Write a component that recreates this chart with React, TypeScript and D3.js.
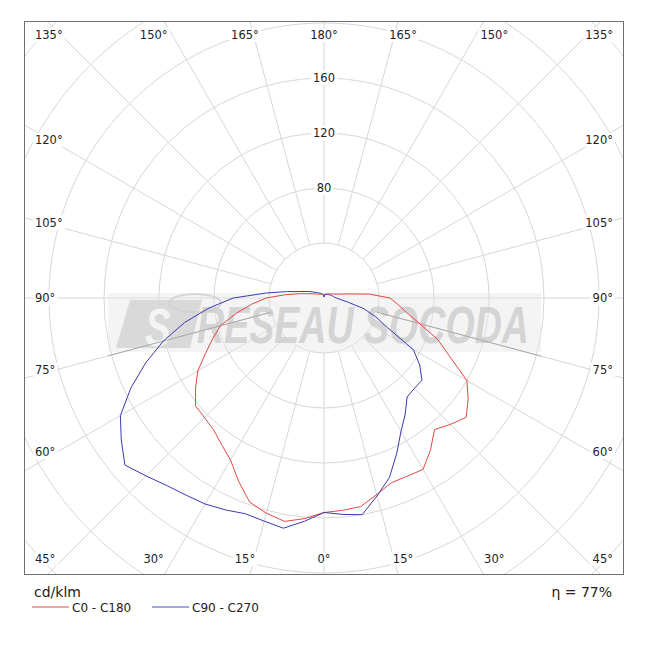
import React from "react";
import * as d3 from "d3";

// gamma angles (degrees from nadir)
const anglesDeg = [0, 5, 10, 15, 20, 25, 30, 35, 40, 45, 50, 55, 60, 65, 70, 75, 80, 85, 90, 95, 100, 105, 110, 115, 120, 125, 130, 135, 140, 145, 150, 155, 160, 165, 170, 175, 180];
// cd/klm, one value per angle
const c0 = [156, 155, 154, 148, 143, 143, 144, 135, 125, 130, 135, 128, 120, 101, 88, 72, 61, 54, 48, 33, 17, 11, 8.5, 7, 6, 5.2, 4.6, 4.2, 3.9, 3.6, 3.4, 3.2, 3.1, 3.0, 2.9, 2.0, 0.8];
const c180 = [156, 161, 165, 162, 158, 147, 136, 130, 125, 123, 122, 114, 106, 95, 86, 78, 65, 53, 42, 28, 18, 12, 9, 7, 5.5, 4.8, 4.2, 3.8, 3.5, 3.3, 3.1, 2.9, 2.8, 2.6, 2.4, 1.7, 0.8];
const c90 = [156, 158, 160, 149, 139, 125, 112, 103, 94, 93, 93, 85, 75, 51, 40, 30, 18, 12, 9, 7.5, 6.8, 6.2, 5.6, 5.1, 4.6, 4.2, 3.9, 3.6, 3.4, 3.2, 3.0, 2.8, 2.6, 2.5, 2.3, 1.7, 0.8];
const c270 = [156, 163, 170, 168, 167, 170, 173, 175, 178, 183, 189, 180, 171, 155, 138, 121, 103, 84, 66, 42, 27, 18, 14, 11, 8.5, 7, 6, 5.2, 4.6, 4.1, 3.7, 3.3, 3.0, 2.6, 2.2, 1.6, 0.8];

const ringValues = [40, 80, 120, 160, 200, 240, 280];
const ringLabels = [80, 120, 160];
const spokeAngles = [0, 15, 30, 45, 60, 75, 90, 105, 120, 135, 150, 165, 180, 195, 210, 225, 240, 255, 270, 285, 300, 315, 330, 345];
const angleLabels = [0, 15, 30, 45, 60, 75, 90, 105, 120, 135, 150, 165, 180];
const seriesNames = ["C0 - C180", "C90 - C270"];
const seriesColors = ["#e24646", "#3a3aae"];
const legendColors = ["#f2a3a3", "#a6a6e6"];
const unitLabel = "cd/klm";
const efficiencyLabel = "η = 77%";
const watermark = "RESEAU SOCODA";

const W = 648;
const H = 648;
const F = { x0: 24.5, y0: 21.5, x1: 623.5, y1: 574.5 };
const cx = 324;
const cy = 298;
const rad = d3.scaleLinear().domain([0, 40]).range([0, 55]);
const FONT = "'DejaVu Sans', Verdana, sans-serif";

function planePoints(right: number[], left: number[]): [number, number][] {
  const pts: [number, number][] = [];
  for (let i = anglesDeg.length - 1; i >= 0; i--) pts.push([Math.PI - (anglesDeg[i] * Math.PI) / 180, rad(right[i])]);
  for (let i = 0; i < anglesDeg.length; i++) pts.push([Math.PI + (anglesDeg[i] * Math.PI) / 180, rad(left[i])]);
  return pts;
}

const radial = d3
  .lineRadial<[number, number]>()
  .angle((d) => d[0])
  .radius((d) => d[1]);

function labelWidth(s: string, fs: number) {
  let w = 0;
  for (const ch of s) {
    if (ch === "°") w += 0.5 * fs;
    else w += 0.636 * fs;
  }
  return w;
}

function angleLabelPos(theta: number, side: number, w: number) {
  const t = (theta * Math.PI) / 180;
  const sx = side * Math.sin(t);
  const sy = Math.cos(t);
  const A = 267;
  const B = 295;
  const ta = Math.abs(sx) > 1e-9 ? A / Math.abs(sx) : Infinity;
  const tb = Math.abs(sy) > 1e-9 ? B / Math.abs(sy) : Infinity;
  let x: number, y: number;
  const minX = 35 + w / 2;
  const maxX = 613 - w / 2;
  if (ta < tb) {
    y = cy + ta * sy;
    if (sy < -0.01) y -= 4;
    x = sx > 0 ? maxX : minX;
  } else {
    x = cx + tb * sx;
    y = sy > 0 ? 559 : 35;
  }
  x = Math.max(minX, Math.min(maxX, x));
  y = Math.max(35, Math.min(559, y));
  return { x, y };
}

export default function App() {
  const planes = [planePoints(c0, c180), planePoints(c90, c270)];
  const labelFs = 11.5;

  const angLabs: { text: string; x: number; y: number; w: number }[] = [];
  angleLabels.forEach((a) => {
    const text = `${a}°`;
    const w = labelWidth(text, labelFs);
    const sides = a === 0 || a === 180 ? [1] : [-1, 1];
    sides.forEach((s) => {
      const p = angleLabelPos(a, s, w);
      angLabs.push({ text, x: p.x, y: p.y, w });
    });
  });

  const band = { x: 108, y: 293, w: 433, h: 59 };
  const darkRay = (side: number) => {
    const t = (75 * Math.PI) / 180;
    const sx = side * Math.sin(t);
    const sy = Math.cos(t);
    const r0 = rad(40);
    const edgeX = side > 0 ? band.x + band.w : band.x;
    const r1 = Math.abs(edgeX - cx) / Math.abs(sx);
    return { x1: cx + r0 * sx, y1: cy + r0 * sy, x2: cx + r1 * sx, y2: cy + r1 * sy };
  };

  return (
    <svg
      width={W}
      height={H}
      viewBox={`0 0 ${W} ${H}`}
      style={{ position: "absolute", left: 0, top: 0, background: "#fff" }}
    >
      <defs>
        <clipPath id="frameClip">
          <rect x={F.x0} y={F.y0} width={F.x1 - F.x0} height={F.y1 - F.y0} />
        </clipPath>
      </defs>
      <rect x={0} y={0} width={W} height={H} fill="#fff" />
      <g clipPath="url(#frameClip)">
        {ringValues.map((v) => (
          <circle key={v} cx={cx} cy={cy} r={rad(v)} fill="none" stroke="#d6d6d6" strokeWidth={1} />
        ))}
        {spokeAngles.map((a) => {
          const t = (a * Math.PI) / 180;
          const r0 = rad(40);
          const r1 = 500;
          return (
            <line
              key={a}
              x1={cx + r0 * Math.sin(t)}
              y1={cy + r0 * Math.cos(t)}
              x2={cx + r1 * Math.sin(t)}
              y2={cy + r1 * Math.cos(t)}
              stroke="#d6d6d6"
              strokeWidth={1}
            />
          );
        })}
      </g>
      {/* watermark */}
      <g>
        <rect x={band.x} y={band.y} width={band.w} height={band.h} fill="#e6e6e6" opacity={0.45} />
        <polygon points="130,300 202,300 190,348 116,348" fill="#d0d0d0" opacity={0.75} />
        <ellipse cx={195} cy={303} rx={26} ry={9} fill="none" stroke="#d0d0d0" strokeWidth={2} opacity={0.8} />
        <text
          transform="translate(158,346) scale(1,1.4)"
          fontFamily="'Liberation Sans', Arial, sans-serif"
          fontWeight="bold"
          fontStyle="italic"
          fontSize={38}
          fill="#f4f4f4"
          textAnchor="middle"
        >
          S
        </text>
        <text
          transform="translate(197,343) scale(1,1.4)"
          fontFamily="'Liberation Sans', Arial, sans-serif"
          fontWeight="bold"
          fontStyle="italic"
          fontSize={37}
          fill="#cdcdcd"
          opacity={0.8}
          textLength={332}
          lengthAdjust="spacingAndGlyphs"
        >
          {watermark}
        </text>
        {[-1, 1].map((s) => {
          const l = darkRay(s);
          return <line key={s} {...l} stroke="#a9a9a9" strokeWidth={1} />;
        })}
      </g>
      <g clipPath="url(#frameClip)">
        {planes.map((pts, i) => (
          <path
            key={i}
            d={radial(pts) || ""}
            transform={`translate(${cx},${cy})`}
            fill="none"
            stroke={seriesColors[i]}
            strokeWidth={1}
            strokeLinejoin="round"
          />
        ))}
      </g>
      {ringLabels.map((v) => {
        const text = String(v);
        const w = labelWidth(text, labelFs);
        const y = cy - rad(v);
        return (
          <g key={v}>
            <rect x={cx - w / 2 - 2} y={y - 7} width={w + 4} height={14} fill="#fff" />
            <text x={cx} y={y} dy="0.36em" textAnchor="middle" fontFamily={FONT} fontSize={labelFs} fill="#222">
              {text}
            </text>
          </g>
        );
      })}
      {angLabs.map((l, i) => (
        <g key={i}>
          <rect x={l.x - l.w / 2 - 2} y={l.y - 7} width={l.w + 4} height={14} fill="#fff" />
          <text x={l.x} y={l.y} dy="0.36em" textAnchor="middle" fontFamily={FONT} fontSize={labelFs} fill="#222">
            {l.text}
          </text>
        </g>
      ))}
      <rect x={F.x0} y={F.y0} width={F.x1 - F.x0} height={F.y1 - F.y0} fill="none" stroke="#6e6e6e" strokeWidth={1} />
      <text x={34} y={597} fontFamily={FONT} fontSize={14} fill="#222">
        {unitLabel}
      </text>
      <text x={612} y={597} textAnchor="end" fontFamily={FONT} fontSize={14} fill="#222">
        {efficiencyLabel}
      </text>
      {seriesNames.map((name, i) => {
        const x0 = i === 0 ? 32 : 152;
        return (
          <g key={name}>
            <line x1={x0} x2={x0 + 37} y1={607} y2={607} stroke={legendColors[i]} strokeWidth={2} />
            <text x={x0 + 40} y={612} fontFamily={FONT} fontSize={12} fill="#222">
              {name}
            </text>
          </g>
        );
      })}
    </svg>
  );
}
